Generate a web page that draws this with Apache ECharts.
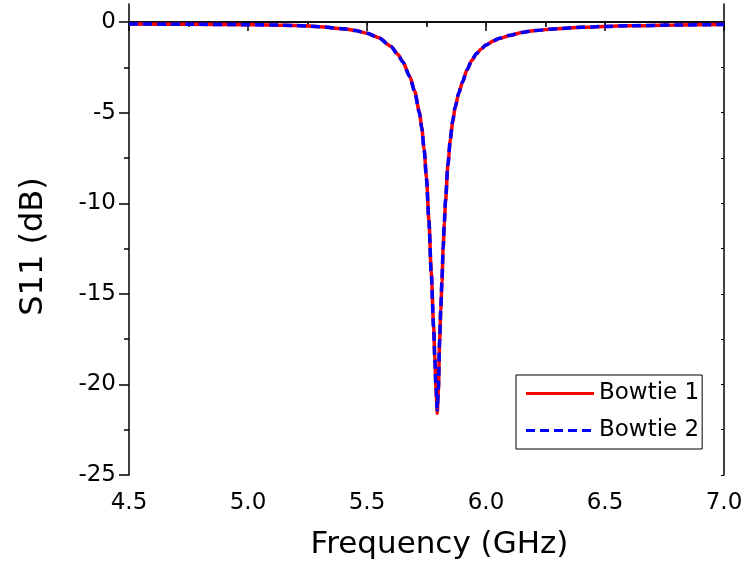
<!DOCTYPE html>
<html><head><meta charset="utf-8">
<script src="https://cdn.jsdelivr.net/npm/echarts@6/dist/echarts.min.js"></script>
<style>html,body{margin:0;padding:0;background:#fff}#c{width:747px;height:572px}</style>
</head><body><div id="c"></div>
<script>
const freq = [4.5,4.75,5.0,5.1,5.2,5.3,5.4,5.45,5.5,5.55,5.6,5.63,5.65,5.68,5.7,5.72,5.73,5.74,5.75,5.76,5.77,5.78,5.785,5.79,5.795,5.8,5.805,5.81,5.815,5.82,5.825,5.83,5.84,5.85,5.86,5.87,5.885,5.9,5.92,5.94,5.96,5.98,6.0,6.03,6.06,6.1,6.15,6.2,6.3,6.4,6.5,6.6,6.8,7.0];
const bowtie1 = [-0.10,-0.12,-0.14,-0.16,-0.19,-0.25,-0.36,-0.46,-0.61,-0.86,-1.33,-1.78,-2.18,-3.0,-3.8,-4.95,-5.8,-7.0,-8.6,-10.9,-13.8,-16.8,-18.5,-20.2,-21.6,-20.3,-17.7,-15.9,-14.3,-12.5,-11.1,-9.9,-7.9,-6.5,-5.5,-4.75,-3.95,-3.35,-2.65,-2.12,-1.74,-1.48,-1.27,-1.04,-0.89,-0.74,-0.57,-0.47,-0.36,-0.29,-0.24,-0.2,-0.16,-0.13];
const bowtie2 = [-0.10,-0.12,-0.14,-0.16,-0.19,-0.25,-0.36,-0.46,-0.62,-0.87,-1.34,-1.8,-2.2,-3.02,-3.83,-5.0,-5.85,-7.05,-8.7,-11.0,-13.9,-16.9,-18.6,-20.3,-21.4,-20.2,-17.6,-15.8,-14.2,-12.4,-11.0,-9.8,-7.85,-6.45,-5.45,-4.72,-3.93,-3.33,-2.64,-2.11,-1.73,-1.47,-1.26,-1.03,-0.88,-0.73,-0.57,-0.47,-0.36,-0.29,-0.24,-0.2,-0.16,-0.13];
const xMajor = [4.5,5.0,5.5,6.0,6.5,7.0];
const xMinor = [4.75,5.25,5.75,6.25,6.75];
const yMajor = [-25,-20,-15,-10,-5,0];
const yMinor = [-22.5,-17.5,-12.5,-7.5,-2.5];

const F = 'DejaVu Sans, Liberation Sans, sans-serif';
const chart = echarts.init(document.getElementById('c'));
const baseX = {type:'value', min:4.5, max:7.0, splitLine:{show:false}};
const baseY = {type:'value', min:-25, max:1, splitLine:{show:false}};
const line = {lineStyle:{color:'#000', width:1.5}};
const solidIcon = 'path://M0,0h68v3h-68z';
const dashIcon = 'path://M0,0h9v3h-9zM14,0h9v3h-9zM28,0h9v3h-9zM42,0h9v3h-9zM56,0h9v3h-9zM68,0h0.01v3h-0.01z';
chart.setOption({
  animation:false,
  backgroundColor:'#fff',
  grid:{left:129, right:23, top:4, bottom:97},
  legend:{
    orient:'vertical', left:516, top:375,
    data:[{name:'Bowtie 1', icon:solidIcon},{name:'Bowtie 2', icon:dashIcon}],
    itemWidth:68, itemHeight:3, itemGap:14,
    padding:[7,3,7,10],
    borderColor:'#000', borderWidth:1, backgroundColor:'#fff',
    textStyle:{fontFamily:F, fontSize:23, color:'#000'}
  },
  xAxis:[
    Object.assign({}, baseX, {position:'bottom', axisLine:line,
      axisTick:{show:true, inside:false, length:9, lineStyle:{color:'#000', width:1.5}, customValues:xMajor},
      axisLabel:{show:true, customValues:xMajor, formatter:v=>v.toFixed(1), fontFamily:F, fontSize:23, color:'#000', margin:17},
      name:'Frequency (GHz)', nameLocation:'middle', nameGap:54,
      nameTextStyle:{fontFamily:F, fontSize:31, color:'#000', padding:[0,0,0,26]}}),
    Object.assign({}, baseX, {position:'bottom', axisLine:{show:false},
      axisTick:{show:true, inside:false, length:5, lineStyle:{color:'#000', width:1.5}, customValues:xMinor},
      axisLabel:{show:false}}),
    Object.assign({}, baseX, {position:'top', axisLine:line,
      axisTick:{show:true, inside:true, length:3, lineStyle:{color:'#000', width:1}, customValues:xMajor.concat(xMinor)},
      axisLabel:{show:false}})
  ],
  yAxis:[
    Object.assign({}, baseY, {position:'left', axisLine:line,
      axisTick:{show:true, inside:false, length:10, lineStyle:{color:'#000', width:1.5}, customValues:yMajor},
      axisLabel:{show:true, customValues:yMajor, fontFamily:F, fontSize:23, color:'#000', margin:13},
      name:'S11 (dB)', nameLocation:'middle', nameGap:79, nameRotate:90,
      nameTextStyle:{fontFamily:F, fontSize:32, color:'#000', padding:[0,14,0,0]}}),
    Object.assign({}, baseY, {position:'left', axisLine:{show:false},
      axisTick:{show:true, inside:false, length:5, lineStyle:{color:'#000', width:1.5}, customValues:yMinor},
      axisLabel:{show:false}}),
    Object.assign({}, baseY, {position:'right', axisLine:line,
      axisTick:{show:true, inside:true, length:3, lineStyle:{color:'#000', width:1}, customValues:yMajor.concat(yMinor)},
      axisLabel:{show:false}})
  ],
  series:[
    {name:'Bowtie 1', type:'line', xAxisIndex:0, yAxisIndex:0, showSymbol:false, symbol:'none',
     smooth:0.25, smoothMonotone:'x',
     data:freq.map((f,i)=>[f,bowtie1[i]]), lineStyle:{color:'#ff0000', width:3.5}, itemStyle:{color:'#ff0000'}},
    {name:'Bowtie 2', type:'line', xAxisIndex:0, yAxisIndex:0, showSymbol:false, symbol:'none',
     smooth:0.25, smoothMonotone:'x',
     data:freq.map((f,i)=>[f,bowtie2[i]]), lineStyle:{color:'#0000ff', width:3.5, type:[9,5]}, itemStyle:{color:'#0000ff'}}
  ]
});
</script></body></html>
